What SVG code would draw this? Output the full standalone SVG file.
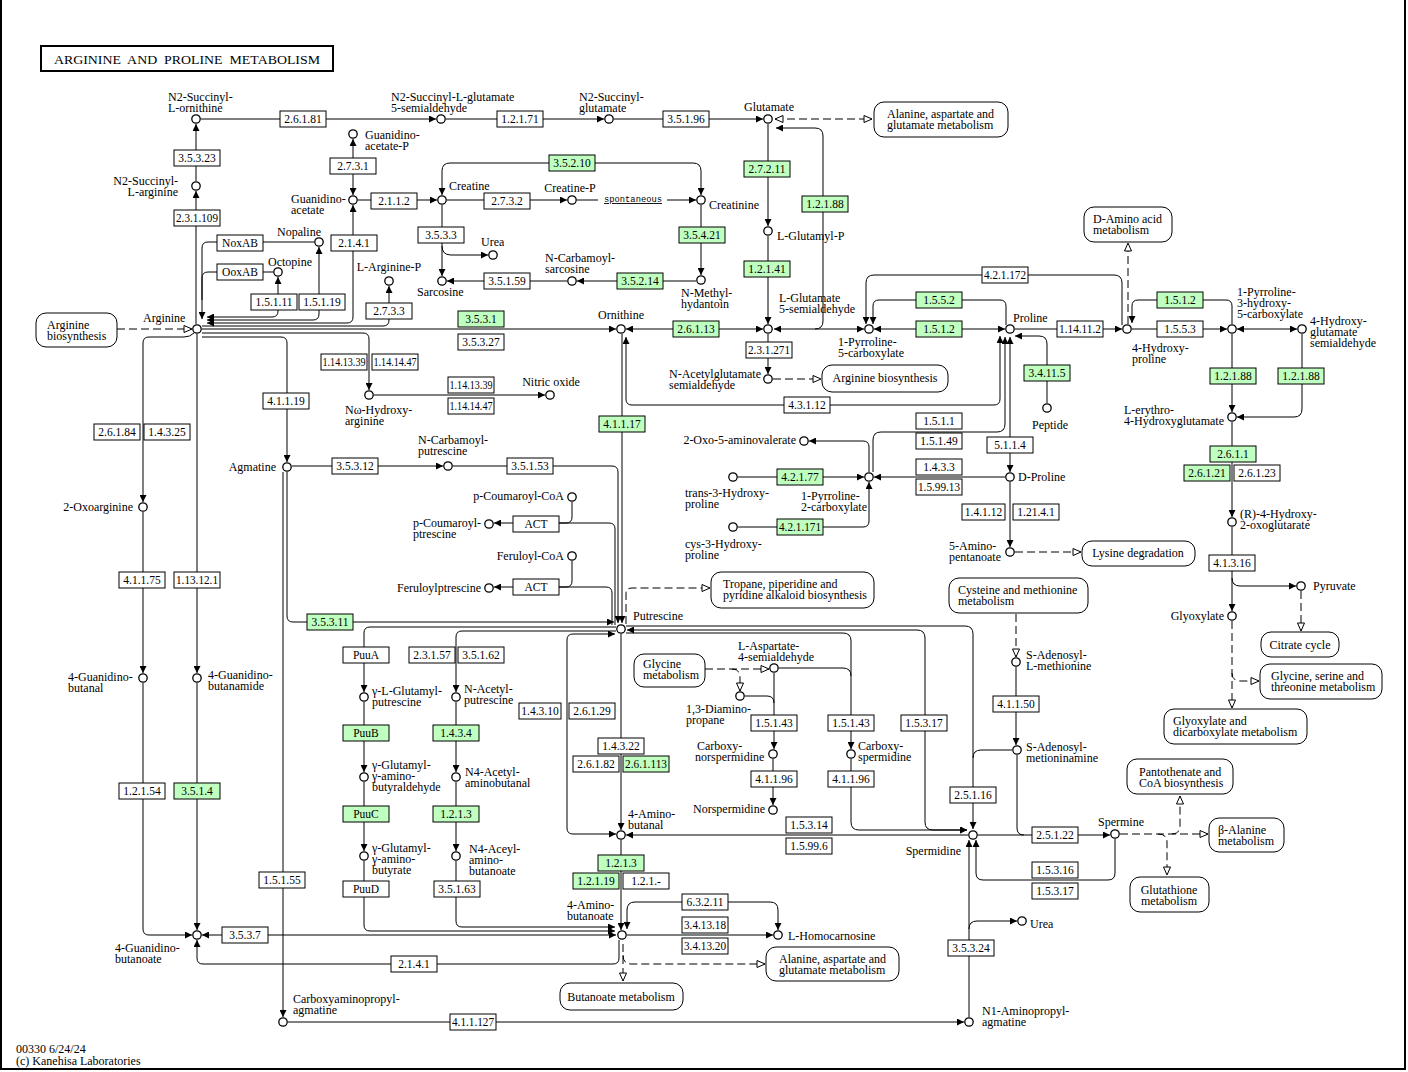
<svg xmlns="http://www.w3.org/2000/svg" width="1408" height="1072" viewBox="0 0 1408 1072">
<style>
.c{fill:#fff;stroke:#000;stroke-width:1.3}
.e rect{fill:#fff;stroke:#000;stroke-width:1}
.g rect{fill:#bfffbf}
.e text{font-family:"Liberation Serif",serif;font-size:11.5px;text-anchor:middle}
.t{font-family:"Liberation Serif",serif;font-size:12px}
.m rect{fill:#fff;stroke:#000;stroke-width:1}
.ln{fill:none;stroke:#000;stroke-width:1}
.dl{fill:none;stroke:#000;stroke-width:1;stroke-dasharray:8 4}
</style>
<defs>
<marker id="a" viewBox="0 0 7 7" refX="7" refY="3.5" markerWidth="7" markerHeight="7" markerUnits="userSpaceOnUse" orient="auto-start-reverse"><path d="M0,0L7,3.5L0,7z" fill="#000"/></marker>
<marker id="o" viewBox="0 0 10 10" refX="9" refY="5" markerWidth="10" markerHeight="10" markerUnits="userSpaceOnUse" orient="auto-start-reverse"><path d="M1,1.5L9,5L1,8.5z" fill="#fff" stroke="#000" stroke-width="1"/></marker>
</defs>
<rect x="0" y="0" width="1408" height="1072" fill="#fff"/>
<path d="M1,0V1069H1405V0" fill="none" stroke="#000" stroke-width="2"/>
<g id="title"><rect x="41" y="46" width="292" height="25" fill="#fff" stroke="#000" stroke-width="2"/><text x="187" y="64" text-anchor="middle" font-family="Liberation Serif, serif" font-size="13" textLength="266" lengthAdjust="spacingAndGlyphs" style="white-space:pre">ARGININE  AND  PROLINE  METABOLISM</text></g>

<g id="connectors">
<path class="ln" d="M201,119H436" marker-end="url(#a)"/>
<path class="ln" d="M446,119H604" marker-end="url(#a)"/>
<path class="ln" d="M614,119H763" marker-end="url(#a)"/>
<path class="dl" d="M775,119H872" marker-start="url(#o)" marker-end="url(#o)"/>
<path class="ln" d="M196,181V124" marker-end="url(#a)"/>
<path class="ln" d="M196,324V191" marker-end="url(#a)"/>
<path class="ln" d="M314,242H208Q202,242 202,248V319" marker-end="url(#a)"/>
<path class="ln" d="M273,272H208Q202,272 202,278V300"/>
<path class="ln" d="M207,317H272Q278,317 278,311V277" marker-start="url(#a)" marker-end="url(#a)"/>
<path class="ln" d="M207,320H313Q319,320 319,314V247" marker-start="url(#a)" marker-end="url(#a)"/>
<path class="ln" d="M207,323H347Q353,323 353,317V205" marker-start="url(#a)" marker-end="url(#a)"/>
<path class="ln" d="M202,326H383Q389,326 389,320V286" marker-end="url(#a)"/>
<path class="ln" d="M202,329H616" marker-end="url(#a)"/>
<path class="ln" d="M202,333H363Q369,333 369,339V390" marker-end="url(#a)"/>
<path class="ln" d="M202,337H281Q287,337 287,343V462" marker-end="url(#a)"/>
<path class="ln" d="M194,333Q190,337 184,337H149Q143,337 143,343V502" marker-end="url(#a)"/>
<path class="ln" d="M197,334V673" marker-end="url(#a)"/>
<path class="ln" d="M197,683V930" marker-end="url(#a)"/>
<path class="ln" d="M143,512V673" marker-end="url(#a)"/>
<path class="ln" d="M143,683V929Q143,935 149,935H192" marker-end="url(#a)"/>
<path class="ln" d="M202,935H616" marker-start="url(#a)" marker-end="url(#a)"/>
<path class="ln" d="M619,940V958Q619,964 613,964H203Q197,964 197,958V940" marker-end="url(#a)"/>
<path class="ln" d="M283,472V1017" marker-end="url(#a)"/>
<path class="ln" d="M287,472V616Q287,622 293,622H614" marker-end="url(#a)"/>
<path class="ln" d="M292,466H443" marker-end="url(#a)"/>
<path class="ln" d="M453,466H612Q618,466 618,472V623" marker-end="url(#a)"/>
<path class="ln" d="M615,625V529Q615,523 609,523H494" marker-end="url(#a)"/>
<path class="ln" d="M572,502V517Q572,523 566,523H558"/>
<path class="ln" d="M612,625V593Q612,587 606,587H494" marker-end="url(#a)"/>
<path class="ln" d="M572,561V581Q572,587 566,587H558"/>
<path class="ln" d="M622,334V623" marker-end="url(#a)"/>
<path class="ln" d="M626,337V399Q626,405 632,405H994Q1000,405 1000,399V336" marker-start="url(#a)" marker-end="url(#a)"/>
<path class="ln" d="M626,329H763" marker-start="url(#a)" marker-end="url(#a)"/>
<path class="ln" d="M768,124V226" marker-end="url(#a)"/>
<path class="ln" d="M768,236V324" marker-end="url(#a)"/>
<path class="ln" d="M768,334V374" marker-end="url(#a)"/>
<path class="dl" d="M773,379H821" marker-end="url(#o)"/>
<path class="ln" d="M774,329H864" marker-start="url(#a)" marker-end="url(#a)"/>
<path class="ln" d="M815,329Q823,329 823,321V136Q823,128 815,128H776" marker-end="url(#a)"/>
<path class="ln" d="M1122,325V283Q1122,275 1114,275H874Q866,275 866,283V324" marker-end="url(#a)"/>
<path class="ln" d="M1006,325V306Q1006,300 1000,300H879Q873,300 873,306V324" marker-end="url(#a)"/>
<path class="ln" d="M874,329H1005" marker-start="url(#a)" marker-end="url(#a)"/>
<path class="ln" d="M1015,329H1122" marker-end="url(#a)"/>
<path class="ln" d="M1132,329H1227" marker-end="url(#a)"/>
<path class="ln" d="M1232,324V306Q1232,300 1226,300H1138Q1132,300 1132,306V323" marker-end="url(#a)"/>
<path class="dl" d="M1128,324V243" marker-end="url(#o)"/>
<path class="ln" d="M1237,329H1297" marker-start="url(#a)" marker-end="url(#a)"/>
<path class="ln" d="M1232,334V412" marker-end="url(#a)"/>
<path class="ln" d="M1302,334V409Q1302,417 1294,417H1237" marker-end="url(#a)"/>
<path class="ln" d="M1232,422V517" marker-end="url(#a)"/>
<path class="ln" d="M1232,527V611" marker-end="url(#a)"/>
<path class="ln" d="M1232,578Q1232,586 1240,586H1296" marker-end="url(#a)"/>
<path class="dl" d="M1301,591V631" marker-end="url(#o)"/>
<path class="dl" d="M1232,621V708" marker-end="url(#o)"/>
<path class="dl" d="M1232,673Q1232,681 1240,681H1259" marker-end="url(#o)"/>
<path class="ln" d="M1047,403V344Q1047,336 1039,336H1015" marker-end="url(#a)"/>
<path class="ln" d="M1010,337V472" marker-start="url(#a)" marker-end="url(#a)"/>
<path class="ln" d="M873,472V440Q873,432 881,432H997Q1005,432 1005,424V337" marker-end="url(#a)"/>
<path class="ln" d="M869,472V447Q869,441 863,441H809" marker-end="url(#a)"/>
<path class="ln" d="M738,477H864" marker-end="url(#a)"/>
<path class="ln" d="M738,527H863Q869,527 869,521V482" marker-end="url(#a)"/>
<path class="ln" d="M1005,477H874" marker-end="url(#a)"/>
<path class="ln" d="M1010,482V547" marker-end="url(#a)"/>
<path class="dl" d="M1015,552H1081" marker-end="url(#o)"/>
<path class="dl" d="M626,624V594Q626,588 632,588H710" marker-end="url(#o)"/>
<path class="dl" d="M1016,614V657" marker-end="url(#o)"/>
<path class="ln" d="M1016,667V745" marker-end="url(#a)"/>
<path class="ln" d="M1012,750H981Q973,750 973,758"/>
<path class="ln" d="M626,626H965Q973,626 973,634V829" marker-end="url(#a)"/>
<path class="ln" d="M627,630H917Q925,630 925,638V822Q925,830 933,830H967" marker-start="url(#a)" marker-end="url(#a)"/>
<path class="ln" d="M626,633H843Q851,633 851,641V749" marker-end="url(#a)"/>
<path class="ln" d="M779,668H843Q851,668 851,676"/>
<path class="ln" d="M851,759V822Q851,830 859,830H967" marker-end="url(#a)"/>
<path class="ln" d="M774,673V749" marker-end="url(#a)"/>
<path class="ln" d="M745,696H767Q774,696 774,703"/>
<path class="dl" d="M705,669H769" marker-end="url(#o)"/>
<path class="dl" d="M732,669Q740,669 740,677V691" marker-end="url(#o)"/>
<path class="ln" d="M773,759V805" marker-end="url(#a)"/>
<path class="ln" d="M968,835H626" marker-end="url(#a)"/>
<path class="ln" d="M978,835H1110" marker-end="url(#a)"/>
<path class="ln" d="M1017,755V828Q1017,835 1024,835"/>
<path class="ln" d="M1115,839V873Q1115,880 1108,880H983Q976,880 976,873V840" marker-end="url(#a)"/>
<path class="ln" d="M969,1017V840" marker-end="url(#a)"/>
<path class="ln" d="M969,929Q969,921 977,921H1017" marker-end="url(#a)"/>
<path class="ln" d="M288,1022H964" marker-end="url(#a)"/>
<path class="dl" d="M1120,834H1208" marker-end="url(#o)"/>
<path class="dl" d="M1172,834Q1180,834 1180,826V796" marker-end="url(#o)"/>
<path class="dl" d="M1158,834Q1167,834 1167,842V875" marker-end="url(#o)"/>
<path class="dl" d="M623,944V981" marker-end="url(#o)"/>
<path class="dl" d="M623,955Q623,964 631,964H765" marker-end="url(#o)"/>
<path class="ln" d="M627,929V910Q627,902 635,902H770Q778,902 778,910V930" marker-start="url(#a)" marker-end="url(#a)"/>
<path class="ln" d="M621,840V930" marker-end="url(#a)"/>
<path class="ln" d="M627,935H773" marker-end="url(#a)"/>
<path class="ln" d="M364,861V925Q364,931 370,931H615" marker-end="url(#a)"/>
<path class="ln" d="M456,861V921Q456,927 462,927H615" marker-end="url(#a)"/>
<path class="ln" d="M616,627H370Q364,627 364,633V692" marker-end="url(#a)"/>
<path class="ln" d="M616,631H462Q456,631 456,637V692" marker-end="url(#a)"/>
<path class="ln" d="M615,634H573Q567,634 567,640V828Q567,834 573,834H616" marker-start="url(#a)" marker-end="url(#a)"/>
<path class="ln" d="M621,634V830" marker-end="url(#a)"/>
<path class="ln" d="M364,702V772" marker-end="url(#a)"/>
<path class="ln" d="M364,782V851" marker-end="url(#a)"/>
<path class="ln" d="M456,702V772" marker-end="url(#a)"/>
<path class="ln" d="M456,782V851" marker-end="url(#a)"/>
<path class="ln" d="M374,395H545" marker-end="url(#a)"/>
<path class="ln" d="M358,200H437" marker-end="url(#a)"/>
<path class="ln" d="M353,139V195" marker-start="url(#a)" marker-end="url(#a)"/>
<path class="ln" d="M447,200H567" marker-end="url(#a)"/>
<path class="ln" d="M577,200H598"/>
<path class="ln" d="M667,200H696" marker-end="url(#a)"/>
<path class="ln" d="M442,195V171Q442,163 450,163H693Q701,163 701,171V195" marker-start="url(#a)" marker-end="url(#a)"/>
<path class="ln" d="M701,205V275" marker-end="url(#a)"/>
<path class="ln" d="M696,281H577" marker-end="url(#a)"/>
<path class="ln" d="M567,281H447" marker-end="url(#a)"/>
<path class="ln" d="M442,205V276" marker-end="url(#a)"/>
<path class="ln" d="M442,246Q442,255 451,255H488" marker-end="url(#a)"/>
<path class="dl" d="M117,329H192" marker-end="url(#o)"/>
</g>

<g id="enzymes">
<g class="e" id="e_2_6_1_81"><rect x="280" y="111" width="46" height="16"/><text x="303" y="123">2.6.1.81</text></g>
<g class="e" id="e_1_2_1_71"><rect x="497" y="111" width="46" height="16"/><text x="520" y="123">1.2.1.71</text></g>
<g class="e" id="e_3_5_1_96"><rect x="663" y="111" width="46" height="16"/><text x="686" y="123">3.5.1.96</text></g>
<g class="e" id="e_3_5_3_23"><rect x="174" y="150" width="46" height="16"/><text x="197" y="162">3.5.3.23</text></g>
<g class="e" id="e_2_3_1_109"><rect x="174" y="210" width="46" height="16"/><text x="197" y="222" textLength="42" lengthAdjust="spacingAndGlyphs">2.3.1.109</text></g>
<g class="e" id="e_noxab"><rect x="217" y="235" width="46" height="16"/><text x="240" y="247">NoxAB</text></g>
<g class="e" id="e_ooxab"><rect x="217" y="264" width="46" height="16"/><text x="240" y="276">OoxAB</text></g>
<g class="e" id="e_1_5_1_11"><rect x="251" y="294" width="46" height="16"/><text x="274" y="306">1.5.1.11</text></g>
<g class="e" id="e_1_5_1_19"><rect x="299" y="294" width="46" height="16"/><text x="322" y="306">1.5.1.19</text></g>
<g class="e" id="e_2_7_3_1"><rect x="330" y="158" width="46" height="16"/><text x="353" y="170">2.7.3.1</text></g>
<g class="e" id="e_2_1_4_1a"><rect x="331" y="235" width="46" height="16"/><text x="354" y="247">2.1.4.1</text></g>
<g class="e" id="e_2_1_1_2"><rect x="371" y="193" width="46" height="16"/><text x="394" y="205">2.1.1.2</text></g>
<g class="e" id="e_2_7_3_2"><rect x="484" y="193" width="46" height="16"/><text x="507" y="205">2.7.3.2</text></g>
<g class="e g" id="e_3_5_2_10"><rect x="549" y="155" width="46" height="16"/><text x="572" y="167">3.5.2.10</text></g>
<g class="e" id="e_3_5_3_3"><rect x="418" y="227" width="46" height="16"/><text x="441" y="239">3.5.3.3</text></g>
<g class="e" id="e_3_5_1_59"><rect x="484" y="273" width="46" height="16"/><text x="507" y="285">3.5.1.59</text></g>
<g class="e g" id="e_3_5_2_14"><rect x="617" y="273" width="46" height="16"/><text x="640" y="285">3.5.2.14</text></g>
<g class="e g" id="e_3_5_4_21"><rect x="679" y="227" width="46" height="16"/><text x="702" y="239">3.5.4.21</text></g>
<g class="e" id="e_2_7_3_3"><rect x="366" y="303" width="46" height="16"/><text x="389" y="315">2.7.3.3</text></g>
<g class="e g" id="e_3_5_3_1"><rect x="458" y="311" width="46" height="16"/><text x="481" y="323">3.5.3.1</text></g>
<g class="e" id="e_3_5_3_27"><rect x="458" y="334" width="46" height="16"/><text x="481" y="346">3.5.3.27</text></g>
<g class="e g" id="e_2_7_2_11"><rect x="744" y="161" width="46" height="16"/><text x="767" y="173">2.7.2.11</text></g>
<g class="e g" id="e_1_2_1_88a"><rect x="802" y="196" width="46" height="16"/><text x="825" y="208">1.2.1.88</text></g>
<g class="e g" id="e_1_2_1_41"><rect x="744" y="261" width="46" height="16"/><text x="767" y="273">1.2.1.41</text></g>
<g class="e g" id="e_2_6_1_13"><rect x="673" y="321" width="46" height="16"/><text x="696" y="333">2.6.1.13</text></g>
<g class="e" id="e_2_3_1_271"><rect x="746" y="342" width="46" height="16"/><text x="769" y="354" textLength="42" lengthAdjust="spacingAndGlyphs">2.3.1.271</text></g>
<g class="e" id="e_4_3_1_12"><rect x="784" y="397" width="46" height="16"/><text x="807" y="409">4.3.1.12</text></g>
<g class="e" id="e_4_2_1_172"><rect x="982" y="267" width="46" height="16"/><text x="1005" y="279" textLength="42" lengthAdjust="spacingAndGlyphs">4.2.1.172</text></g>
<g class="e g" id="e_1_5_5_2"><rect x="916" y="292" width="46" height="16"/><text x="939" y="304">1.5.5.2</text></g>
<g class="e g" id="e_1_5_1_2a"><rect x="916" y="321" width="46" height="16"/><text x="939" y="333">1.5.1.2</text></g>
<g class="e" id="e_1_14_11_2"><rect x="1057" y="321" width="46" height="16"/><text x="1080" y="333" textLength="42" lengthAdjust="spacingAndGlyphs">1.14.11.2</text></g>
<g class="e g" id="e_1_5_1_2b"><rect x="1157" y="292" width="46" height="16"/><text x="1180" y="304">1.5.1.2</text></g>
<g class="e" id="e_1_5_5_3"><rect x="1157" y="321" width="46" height="16"/><text x="1180" y="333">1.5.5.3</text></g>
<g class="e g" id="e_1_2_1_88b"><rect x="1210" y="368" width="46" height="16"/><text x="1233" y="380">1.2.1.88</text></g>
<g class="e g" id="e_1_2_1_88c"><rect x="1278" y="368" width="46" height="16"/><text x="1301" y="380">1.2.1.88</text></g>
<g class="e g" id="e_2_6_1_1"><rect x="1210" y="446" width="46" height="16"/><text x="1233" y="458">2.6.1.1</text></g>
<g class="e g" id="e_2_6_1_21"><rect x="1184" y="465" width="46" height="16"/><text x="1207" y="477">2.6.1.21</text></g>
<g class="e" id="e_2_6_1_23"><rect x="1234" y="465" width="46" height="16"/><text x="1257" y="477">2.6.1.23</text></g>
<g class="e" id="e_4_1_3_16"><rect x="1209" y="555" width="46" height="16"/><text x="1232" y="567">4.1.3.16</text></g>
<g class="e g" id="e_3_4_11_5"><rect x="1024" y="365" width="46" height="16"/><text x="1047" y="377">3.4.11.5</text></g>
<g class="e" id="e_1_5_1_1"><rect x="916" y="413" width="46" height="16"/><text x="939" y="425">1.5.1.1</text></g>
<g class="e" id="e_1_5_1_49"><rect x="916" y="433" width="46" height="16"/><text x="939" y="445">1.5.1.49</text></g>
<g class="e" id="e_5_1_1_4"><rect x="987" y="437" width="46" height="16"/><text x="1010" y="449">5.1.1.4</text></g>
<g class="e g" id="e_4_2_1_77"><rect x="777" y="469" width="46" height="16"/><text x="800" y="481">4.2.1.77</text></g>
<g class="e g" id="e_4_2_1_171"><rect x="777" y="519" width="46" height="16"/><text x="800" y="531" textLength="42" lengthAdjust="spacingAndGlyphs">4.2.1.171</text></g>
<g class="e" id="e_1_4_3_3"><rect x="916" y="459" width="46" height="16"/><text x="939" y="471">1.4.3.3</text></g>
<g class="e" id="e_1_5_99_13"><rect x="916" y="479" width="46" height="16"/><text x="939" y="491" textLength="42" lengthAdjust="spacingAndGlyphs">1.5.99.13</text></g>
<g class="e" id="e_1_4_1_12"><rect x="962" y="504" width="43" height="16"/><text x="983.5" y="516">1.4.1.12</text></g>
<g class="e" id="e_1_21_4_1"><rect x="1013" y="504" width="46" height="16"/><text x="1036" y="516">1.21.4.1</text></g>
<g class="e" id="e_1_14_13_39a"><rect x="321" y="354" width="46" height="16"/><text x="344" y="366" textLength="43" lengthAdjust="spacingAndGlyphs">1.14.13.39</text></g>
<g class="e" id="e_1_14_14_47a"><rect x="372" y="354" width="46" height="16"/><text x="395" y="366" textLength="43" lengthAdjust="spacingAndGlyphs">1.14.14.47</text></g>
<g class="e" id="e_1_14_13_39b"><rect x="448" y="377" width="46" height="16"/><text x="471" y="389" textLength="43" lengthAdjust="spacingAndGlyphs">1.14.13.39</text></g>
<g class="e" id="e_1_14_14_47b"><rect x="448" y="398" width="46" height="16"/><text x="471" y="410" textLength="43" lengthAdjust="spacingAndGlyphs">1.14.14.47</text></g>
<g class="e g" id="e_4_1_1_17"><rect x="599" y="416" width="46" height="16"/><text x="622" y="428">4.1.1.17</text></g>
<g class="e" id="e_4_1_1_19"><rect x="263" y="393" width="46" height="16"/><text x="286" y="405">4.1.1.19</text></g>
<g class="e" id="e_2_6_1_84"><rect x="94" y="424" width="46" height="16"/><text x="117" y="436">2.6.1.84</text></g>
<g class="e" id="e_1_4_3_25"><rect x="144" y="424" width="46" height="16"/><text x="167" y="436">1.4.3.25</text></g>
<g class="e" id="e_4_1_1_75"><rect x="119" y="572" width="46" height="16"/><text x="142" y="584">4.1.1.75</text></g>
<g class="e" id="e_1_13_12_1"><rect x="174" y="572" width="46" height="16"/><text x="197" y="584" textLength="42" lengthAdjust="spacingAndGlyphs">1.13.12.1</text></g>
<g class="e" id="e_3_5_3_12"><rect x="332" y="458" width="46" height="16"/><text x="355" y="470">3.5.3.12</text></g>
<g class="e" id="e_3_5_1_53"><rect x="507" y="458" width="46" height="16"/><text x="530" y="470">3.5.1.53</text></g>
<g class="e" id="e_act_a"><rect x="513" y="516" width="46" height="16"/><text x="536" y="528">ACT</text></g>
<g class="e" id="e_act_b"><rect x="513" y="579" width="46" height="16"/><text x="536" y="591">ACT</text></g>
<g class="e g" id="e_3_5_3_11"><rect x="307" y="614" width="46" height="16"/><text x="330" y="626">3.5.3.11</text></g>
<g class="e" id="e_puua"><rect x="343" y="647" width="46" height="16"/><text x="366" y="659">PuuA</text></g>
<g class="e" id="e_2_3_1_57"><rect x="409" y="647" width="46" height="16"/><text x="432" y="659">2.3.1.57</text></g>
<g class="e" id="e_3_5_1_62"><rect x="458" y="647" width="46" height="16"/><text x="481" y="659">3.5.1.62</text></g>
<g class="e" id="e_1_4_3_10"><rect x="519" y="703" width="42" height="16"/><text x="540" y="715">1.4.3.10</text></g>
<g class="e" id="e_2_6_1_29"><rect x="569" y="703" width="46" height="16"/><text x="592" y="715">2.6.1.29</text></g>
<g class="e g" id="e_puub"><rect x="343" y="725" width="46" height="16"/><text x="366" y="737">PuuB</text></g>
<g class="e g" id="e_1_4_3_4"><rect x="433" y="725" width="46" height="16"/><text x="456" y="737">1.4.3.4</text></g>
<g class="e g" id="e_puuc"><rect x="343" y="806" width="46" height="16"/><text x="366" y="818">PuuC</text></g>
<g class="e g" id="e_1_2_1_3a"><rect x="433" y="806" width="46" height="16"/><text x="456" y="818">1.2.1.3</text></g>
<g class="e" id="e_puud"><rect x="343" y="881" width="46" height="16"/><text x="366" y="893">PuuD</text></g>
<g class="e" id="e_3_5_1_63"><rect x="434" y="881" width="46" height="16"/><text x="457" y="893">3.5.1.63</text></g>
<g class="e" id="e_1_4_3_22"><rect x="598" y="738" width="46" height="16"/><text x="621" y="750">1.4.3.22</text></g>
<g class="e" id="e_2_6_1_82"><rect x="573" y="756" width="46" height="16"/><text x="596" y="768">2.6.1.82</text></g>
<g class="e g" id="e_2_6_1_113"><rect x="623" y="756" width="46" height="16"/><text x="646" y="768" textLength="42" lengthAdjust="spacingAndGlyphs">2.6.1.113</text></g>
<g class="e g" id="e_1_2_1_3b"><rect x="598" y="855" width="46" height="16"/><text x="621" y="867">1.2.1.3</text></g>
<g class="e g" id="e_1_2_1_19"><rect x="573" y="873" width="46" height="16"/><text x="596" y="885">1.2.1.19</text></g>
<g class="e" id="e_1_2_1_x"><rect x="623" y="873" width="46" height="16"/><text x="646" y="885">1.2.1.-</text></g>
<g class="e" id="e_6_3_2_11"><rect x="682" y="894" width="46" height="16"/><text x="705" y="906">6.3.2.11</text></g>
<g class="e" id="e_3_4_13_18"><rect x="682" y="917" width="46" height="16"/><text x="705" y="929" textLength="42" lengthAdjust="spacingAndGlyphs">3.4.13.18</text></g>
<g class="e" id="e_3_4_13_20"><rect x="682" y="938" width="46" height="16"/><text x="705" y="950" textLength="42" lengthAdjust="spacingAndGlyphs">3.4.13.20</text></g>
<g class="e" id="e_2_1_4_1b"><rect x="391" y="956" width="46" height="16"/><text x="414" y="968">2.1.4.1</text></g>
<g class="e" id="e_3_5_3_7"><rect x="222" y="927" width="46" height="16"/><text x="245" y="939">3.5.3.7</text></g>
<g class="e" id="e_1_2_1_54"><rect x="119" y="783" width="46" height="16"/><text x="142" y="795">1.2.1.54</text></g>
<g class="e g" id="e_3_5_1_4"><rect x="174" y="783" width="46" height="16"/><text x="197" y="795">3.5.1.4</text></g>
<g class="e" id="e_1_5_1_55"><rect x="259" y="872" width="46" height="16"/><text x="282" y="884">1.5.1.55</text></g>
<g class="e" id="e_4_1_1_127"><rect x="450" y="1014" width="46" height="16"/><text x="473" y="1026" textLength="42" lengthAdjust="spacingAndGlyphs">4.1.1.127</text></g>
<g class="e" id="e_1_5_1_43a"><rect x="751" y="715" width="46" height="16"/><text x="774" y="727">1.5.1.43</text></g>
<g class="e" id="e_1_5_1_43b"><rect x="828" y="715" width="46" height="16"/><text x="851" y="727">1.5.1.43</text></g>
<g class="e" id="e_1_5_3_17a"><rect x="901" y="715" width="46" height="16"/><text x="924" y="727">1.5.3.17</text></g>
<g class="e" id="e_4_1_1_96a"><rect x="751" y="771" width="46" height="16"/><text x="774" y="783">4.1.1.96</text></g>
<g class="e" id="e_4_1_1_96b"><rect x="828" y="771" width="46" height="16"/><text x="851" y="783">4.1.1.96</text></g>
<g class="e" id="e_1_5_3_14"><rect x="786" y="817" width="46" height="16"/><text x="809" y="829">1.5.3.14</text></g>
<g class="e" id="e_1_5_99_6"><rect x="786" y="838" width="46" height="16"/><text x="809" y="850">1.5.99.6</text></g>
<g class="e" id="e_2_5_1_16"><rect x="950" y="787" width="46" height="16"/><text x="973" y="799">2.5.1.16</text></g>
<g class="e" id="e_4_1_1_50"><rect x="993" y="696" width="46" height="16"/><text x="1016" y="708">4.1.1.50</text></g>
<g class="e" id="e_2_5_1_22"><rect x="1032" y="827" width="46" height="16"/><text x="1055" y="839">2.5.1.22</text></g>
<g class="e" id="e_1_5_3_16"><rect x="1032" y="862" width="46" height="16"/><text x="1055" y="874">1.5.3.16</text></g>
<g class="e" id="e_1_5_3_17b"><rect x="1032" y="883" width="46" height="16"/><text x="1055" y="895">1.5.3.17</text></g>
<g class="e" id="e_3_5_3_24"><rect x="948" y="940" width="46" height="16"/><text x="971" y="952">3.5.3.24</text></g>
</g>

<g id="maps">
<g class="m" id="m_ala1"><rect x="874" y="102" width="134" height="35" rx="10"/><text class="t" x="887" y="118">Alanine, aspartate and</text><text class="t" x="887" y="129">glutamate metabolism</text></g>
<g class="m" id="m_argbio1"><rect x="36" y="313" width="81" height="34" rx="10"/><text class="t" x="47" y="329">Arginine</text><text class="t" x="47" y="340">biosynthesis</text></g>
<g class="m" id="m_argbio2"><rect x="822" y="365" width="126" height="27" rx="10"/><text class="t" x="885" y="382" text-anchor="middle">Arginine biosynthesis</text></g>
<g class="m" id="m_daa"><rect x="1084" y="207" width="88" height="35" rx="10"/><text class="t" x="1093" y="223">D-Amino acid</text><text class="t" x="1093" y="234">metabolism</text></g>
<g class="m" id="m_lys"><rect x="1082" y="541" width="113" height="25" rx="10"/><text class="t" x="1138" y="557" text-anchor="middle">Lysine degradation</text></g>
<g class="m" id="m_trop"><rect x="711" y="572" width="163" height="36" rx="10"/><text class="t" x="723" y="588">Tropane, piperidine and</text><text class="t" x="723" y="599">pyridine alkaloid biosynthesis</text></g>
<g class="m" id="m_cys"><rect x="949" y="578" width="139" height="35" rx="10"/><text class="t" x="958" y="594">Cysteine and methionine</text><text class="t" x="958" y="605">metabolism</text></g>
<g class="m" id="m_tca"><rect x="1261" y="632" width="78" height="25" rx="10"/><text class="t" x="1300" y="649" text-anchor="middle">Citrate cycle</text></g>
<g class="m" id="m_gly2"><rect x="1260" y="664" width="122" height="35" rx="10"/><text class="t" x="1271" y="680">Glycine, serine and</text><text class="t" x="1271" y="691">threonine metabolism</text></g>
<g class="m" id="m_glx"><rect x="1164" y="709" width="143" height="35" rx="10"/><text class="t" x="1173" y="725">Glyoxylate and</text><text class="t" x="1173" y="736">dicarboxylate metabolism</text></g>
<g class="m" id="m_gly1"><rect x="634" y="654" width="71" height="33" rx="10"/><text class="t" x="643" y="668">Glycine</text><text class="t" x="643" y="679">metabolism</text></g>
<g class="m" id="m_pan"><rect x="1127" y="759" width="106" height="35" rx="10"/><text class="t" x="1139" y="776">Pantothenate and</text><text class="t" x="1139" y="787">CoA biosynthesis</text></g>
<g class="m" id="m_bala"><rect x="1209" y="818" width="75" height="34" rx="10"/><text class="t" x="1218" y="834">β-Alanine</text><text class="t" x="1218" y="845">metabolism</text></g>
<g class="m" id="m_gsh"><rect x="1130" y="877" width="79" height="35" rx="10"/><text class="t" x="1169" y="894" text-anchor="middle">Glutathione</text><text class="t" x="1169" y="905" text-anchor="middle">metabolism</text></g>
<g class="m" id="m_ala2"><rect x="766" y="947" width="133" height="34" rx="10"/><text class="t" x="779" y="963">Alanine, aspartate and</text><text class="t" x="779" y="974">glutamate metabolism</text></g>
<g class="m" id="m_but"><rect x="560" y="983" width="123" height="27" rx="10"/><text class="t" x="621" y="1001" text-anchor="middle">Butanoate metabolism</text></g>
</g>

<g id="compounds">
<g id="c_n2so"><circle class="c" cx="196" cy="119" r="4.2"/><text class="t" x="168" y="101">N2-Succinyl-</text><text class="t" x="168" y="112">L-ornithine</text></g>
<g id="c_n2sa"><circle class="c" cx="196" cy="186" r="4.2"/><text class="t" x="178" y="185" text-anchor="end">N2-Succinyl-</text><text class="t" x="178" y="196" text-anchor="end">L-arginine</text></g>
<g id="c_arg"><circle class="c" cx="197" cy="329" r="4.2"/><text class="t" x="143" y="322">Arginine</text></g>
<g id="c_n2sgsa"><circle class="c" cx="441" cy="119" r="4.2"/><text class="t" x="391" y="101">N2-Succinyl-L-glutamate</text><text class="t" x="391" y="112">5-semialdehyde</text></g>
<g id="c_n2sg"><circle class="c" cx="609" cy="119" r="4.2"/><text class="t" x="579" y="101">N2-Succinyl-</text><text class="t" x="579" y="112">glutamate</text></g>
<g id="c_glu"><circle class="c" cx="768" cy="119" r="4.2"/><text class="t" x="769" y="111" text-anchor="middle">Glutamate</text></g>
<g id="c_gap"><circle class="c" cx="353" cy="134" r="4.2"/><text class="t" x="365" y="139">Guanidino-</text><text class="t" x="365" y="150">acetate-P</text></g>
<g id="c_gaa"><circle class="c" cx="353" cy="200" r="4.2"/><text class="t" x="291" y="203">Guanidino-</text><text class="t" x="291" y="214">acetate</text></g>
<g id="c_crt"><circle class="c" cx="442" cy="200" r="4.2"/><text class="t" x="449" y="190">Creatine</text></g>
<g id="c_crp"><circle class="c" cx="572" cy="200" r="4.2"/><text class="t" x="570" y="192" text-anchor="middle">Creatine-P</text></g>
<g id="c_crn"><circle class="c" cx="701" cy="200" r="4.2"/><text class="t" x="709" y="209">Creatinine</text></g>
<g id="c_urea1"><circle class="c" cx="493" cy="255" r="4.2"/><text class="t" x="481" y="246">Urea</text></g>
<g id="c_sar"><circle class="c" cx="442" cy="281" r="4.2"/><text class="t" x="417" y="296">Sarcosine</text></g>
<g id="c_ncs"><circle class="c" cx="572" cy="281" r="4.2"/><text class="t" x="545" y="262">N-Carbamoyl-</text><text class="t" x="545" y="273">sarcosine</text></g>
<g id="c_nmh"><circle class="c" cx="701" cy="280" r="4.2"/><text class="t" x="681" y="297">N-Methyl-</text><text class="t" x="681" y="308">hydantoin</text></g>
<g id="c_argp"><circle class="c" cx="389" cy="281" r="4.2"/><text class="t" x="389" y="271" text-anchor="middle">L-Arginine-P</text></g>
<g id="c_nop"><circle class="c" cx="319" cy="242" r="4.2"/><text class="t" x="299" y="236" text-anchor="middle">Nopaline</text></g>
<g id="c_oct"><circle class="c" cx="278" cy="272" r="4.2"/><text class="t" x="290" y="266" text-anchor="middle">Octopine</text></g>
<g id="c_orn"><circle class="c" cx="621" cy="329" r="4.2"/><text class="t" x="621" y="319" text-anchor="middle">Ornithine</text></g>
<g id="c_lgp"><circle class="c" cx="768" cy="231" r="4.2"/><text class="t" x="777" y="240">L-Glutamyl-P</text></g>
<g id="c_lg5"><circle class="c" cx="768" cy="329" r="4.2"/><text class="t" x="779" y="302">L-Glutamate</text><text class="t" x="779" y="313">5-semialdehyde</text></g>
<g id="c_nags"><circle class="c" cx="768" cy="379" r="4.2"/><text class="t" x="669" y="378">N-Acetylglutamate</text><text class="t" x="669" y="389">semialdehyde</text></g>
<g id="c_p5c"><circle class="c" cx="869" cy="329" r="4.2"/><text class="t" x="838" y="346">1-Pyrroline-</text><text class="t" x="838" y="357">5-carboxylate</text></g>
<g id="c_pro"><circle class="c" cx="1010" cy="329" r="4.2"/><text class="t" x="1013" y="322">Proline</text></g>
<g id="c_4hp"><circle class="c" cx="1127" cy="329" r="4.2"/><text class="t" x="1132" y="352">4-Hydroxy-</text><text class="t" x="1132" y="363">proline</text></g>
<g id="c_p3h"><circle class="c" cx="1232" cy="329" r="4.2"/><text class="t" x="1237" y="296">1-Pyrroline-</text><text class="t" x="1237" y="307">3-hydroxy-</text><text class="t" x="1237" y="318">5-carboxylate</text></g>
<g id="c_4hgs"><circle class="c" cx="1302" cy="329" r="4.2"/><text class="t" x="1310" y="325">4-Hydroxy-</text><text class="t" x="1310" y="336">glutamate</text><text class="t" x="1310" y="347">semialdehyde</text></g>
<g id="c_leh"><circle class="c" cx="1232" cy="417" r="4.2"/><text class="t" x="1124" y="414">L-erythro-</text><text class="t" x="1124" y="425">4-Hydroxyglutamate</text></g>
<g id="c_r4h"><circle class="c" cx="1232" cy="522" r="4.2"/><text class="t" x="1240" y="518">(R)-4-Hydroxy-</text><text class="t" x="1240" y="529">2-oxoglutarate</text></g>
<g id="c_glx"><circle class="c" cx="1232" cy="616" r="4.2"/><text class="t" x="1224" y="620" text-anchor="end">Glyoxylate</text></g>
<g id="c_pyr"><circle class="c" cx="1301" cy="586" r="4.2"/><text class="t" x="1313" y="590">Pyruvate</text></g>
<g id="c_pep"><circle class="c" cx="1047" cy="408" r="4.2"/><text class="t" x="1032" y="429">Peptide</text></g>
<g id="c_dpro"><circle class="c" cx="1010" cy="477" r="4.2"/><text class="t" x="1018" y="481">D-Proline</text></g>
<g id="c_5ap"><circle class="c" cx="1010" cy="552" r="4.2"/><text class="t" x="949" y="550">5-Amino-</text><text class="t" x="949" y="561">pentanoate</text></g>
<g id="c_oxav"><circle class="c" cx="804" cy="441" r="4.2"/><text class="t" x="796" y="444" text-anchor="end">2-Oxo-5-aminovalerate</text></g>
<g id="c_p2c"><circle class="c" cx="869" cy="477" r="4.2"/><text class="t" x="801" y="500">1-Pyrroline-</text><text class="t" x="801" y="511">2-carboxylate</text></g>
<g id="c_t3hp"><circle class="c" cx="733" cy="477" r="4.2"/><text class="t" x="685" y="497">trans-3-Hydroxy-</text><text class="t" x="685" y="508">proline</text></g>
<g id="c_c3hp"><circle class="c" cx="733" cy="527" r="4.2"/><text class="t" x="685" y="548">cys-3-Hydroxy-</text><text class="t" x="685" y="559">proline</text></g>
<g id="c_nohr"><circle class="c" cx="369" cy="395" r="4.2"/><text class="t" x="345" y="414">Nω-Hydroxy-</text><text class="t" x="345" y="425">arginine</text></g>
<g id="c_no"><circle class="c" cx="550" cy="395" r="4.2"/><text class="t" x="551" y="386" text-anchor="middle">Nitric oxide</text></g>
<g id="c_agm"><circle class="c" cx="287" cy="467" r="4.2"/><text class="t" x="276" y="471" text-anchor="end">Agmatine</text></g>
<g id="c_ncp"><circle class="c" cx="448" cy="466" r="4.2"/><text class="t" x="418" y="444">N-Carbamoyl-</text><text class="t" x="418" y="455">putrescine</text></g>
<g id="c_pcc"><circle class="c" cx="572" cy="497" r="4.2"/><text class="t" x="564" y="500" text-anchor="end">p-Coumaroyl-CoA</text></g>
<g id="c_pcp"><circle class="c" cx="489" cy="524" r="4.2"/><text class="t" x="413" y="527">p-Coumaroyl-</text><text class="t" x="413" y="538">ptrescine</text></g>
<g id="c_fcoa"><circle class="c" cx="572" cy="556" r="4.2"/><text class="t" x="564" y="560" text-anchor="end">Feruloyl-CoA</text></g>
<g id="c_fp"><circle class="c" cx="489" cy="588" r="4.2"/><text class="t" x="481" y="592" text-anchor="end">Feruloylptrescine</text></g>
<g id="c_put"><circle class="c" cx="621" cy="629" r="4.2"/><text class="t" x="633" y="620">Putrescine</text></g>
<g id="c_oxarg"><circle class="c" cx="143" cy="507" r="4.2"/><text class="t" x="133" y="511" text-anchor="end">2-Oxoarginine</text></g>
<g id="c_4gbal"><circle class="c" cx="143" cy="678" r="4.2"/><text class="t" x="68" y="681">4-Guanidino-</text><text class="t" x="68" y="692">butanal</text></g>
<g id="c_4gbam"><circle class="c" cx="197" cy="678" r="4.2"/><text class="t" x="208" y="679">4-Guanidino-</text><text class="t" x="208" y="690">butanamide</text></g>
<g id="c_glp"><circle class="c" cx="364" cy="697" r="4.2"/><text class="t" x="372" y="695">γ-L-Glutamyl-</text><text class="t" x="372" y="706">putrescine</text></g>
<g id="c_nap"><circle class="c" cx="456" cy="697" r="4.2"/><text class="t" x="464" y="693">N-Acetyl-</text><text class="t" x="464" y="704">putrescine</text></g>
<g id="c_gga"><circle class="c" cx="364" cy="777" r="4.2"/><text class="t" x="372" y="769">γ-Glutamyl-</text><text class="t" x="372" y="780">γ-amino-</text><text class="t" x="372" y="791">butyraldehyde</text></g>
<g id="c_n4aa"><circle class="c" cx="456" cy="777" r="4.2"/><text class="t" x="465" y="776">N4-Acetyl-</text><text class="t" x="465" y="787">aminobutanal</text></g>
<g id="c_ggb"><circle class="c" cx="364" cy="856" r="4.2"/><text class="t" x="372" y="852">γ-Glutamyl-</text><text class="t" x="372" y="863">γ-amino-</text><text class="t" x="372" y="874">butyrate</text></g>
<g id="c_n4ab"><circle class="c" cx="456" cy="856" r="4.2"/><text class="t" x="469" y="853">N4-Aceyl-</text><text class="t" x="469" y="864">amino-</text><text class="t" x="469" y="875">butanoate</text></g>
<g id="c_4aal"><circle class="c" cx="621" cy="835" r="4.2"/><text class="t" x="628" y="818">4-Amino-</text><text class="t" x="628" y="829">butanal</text></g>
<g id="c_4aba"><circle class="c" cx="622" cy="935" r="4.2"/><text class="t" x="567" y="909">4-Amino-</text><text class="t" x="567" y="920">butanoate</text></g>
<g id="c_lasp"><circle class="c" cx="774" cy="668" r="4.2"/><text class="t" x="738" y="650">L-Aspartate-</text><text class="t" x="738" y="661">4-semialdehyde</text></g>
<g id="c_dap"><circle class="c" cx="740" cy="696" r="4.2"/><text class="t" x="686" y="713">1,3-Diamino-</text><text class="t" x="686" y="724">propane</text></g>
<g id="c_cns"><circle class="c" cx="773" cy="754" r="4.2"/><text class="t" x="697" y="750">Carboxy-</text><text class="t" x="695" y="761">norspermidine</text></g>
<g id="c_csp"><circle class="c" cx="851" cy="754" r="4.2"/><text class="t" x="858" y="750">Carboxy-</text><text class="t" x="858" y="761">spermidine</text></g>
<g id="c_nsp"><circle class="c" cx="773" cy="810" r="4.2"/><text class="t" x="765" y="813" text-anchor="end">Norspermidine</text></g>
<g id="c_spd"><circle class="c" cx="973" cy="835" r="4.2"/><text class="t" x="961" y="855" text-anchor="end">Spermidine</text></g>
<g id="c_sam"><circle class="c" cx="1016" cy="662" r="4.2"/><text class="t" x="1026" y="659">S-Adenosyl-</text><text class="t" x="1026" y="670">L-methionine</text></g>
<g id="c_dcsam"><circle class="c" cx="1017" cy="750" r="4.2"/><text class="t" x="1026" y="751">S-Adenosyl-</text><text class="t" x="1026" y="762">metioninamine</text></g>
<g id="c_spm"><circle class="c" cx="1115" cy="834" r="4.2"/><text class="t" x="1098" y="826">Spermine</text></g>
<g id="c_urea2"><circle class="c" cx="1022" cy="921" r="4.2"/><text class="t" x="1030" y="928">Urea</text></g>
<g id="c_n1apa"><circle class="c" cx="969" cy="1022" r="4.2"/><text class="t" x="982" y="1015">N1-Aminopropyl-</text><text class="t" x="982" y="1026">agmatine</text></g>
<g id="c_capa"><circle class="c" cx="283" cy="1022" r="4.2"/><text class="t" x="293" y="1003">Carboxyaminopropyl-</text><text class="t" x="293" y="1014">agmatine</text></g>
<g id="c_4gb"><circle class="c" cx="197" cy="935" r="4.2"/><text class="t" x="115" y="952">4-Guanidino-</text><text class="t" x="115" y="963">butanoate</text></g>
<g id="c_lhc"><circle class="c" cx="778" cy="935" r="4.2"/><text class="t" x="788" y="940">L-Homocarnosine</text></g>
</g>
<text x="604" y="202" font-family="Liberation Mono, monospace" font-size="9" textLength="58" lengthAdjust="spacingAndGlyphs" text-decoration="underline">spontaneous</text>
<text class="t" x="16" y="1053">00330 6/24/24</text>
<text class="t" x="16" y="1065">(c) Kanehisa Laboratories</text>
</svg>
